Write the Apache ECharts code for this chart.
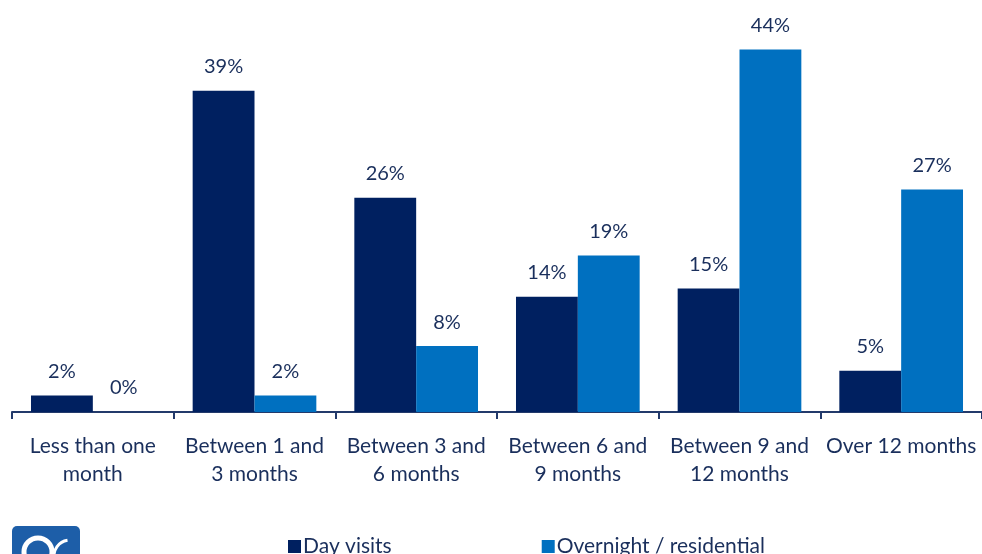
<!DOCTYPE html>
<html>
<head>
<meta charset="utf-8">
<script src="https://cdn.jsdelivr.net/npm/echarts@6/dist/echarts.min.js"></script>
<style>
  html, body { margin: 0; padding: 0; background: #ffffff; }
  #chart { width: 982px; height: 554px; }
</style>
</head>
<body>
<div id="chart"></div>
<script>
// Time since last visit, share of respondents by visit type
const categories = [
  'Less than one\nmonth',
  'Between 1 and\n3 months',
  'Between 3 and\n6 months',
  'Between 6 and\n9 months',
  'Between 9 and\n12 months',
  'Over 12 months'
];
const dayVisits = [2, 39, 26, 14, 15, 5];
const overnightResidential = [0, 2, 8, 19, 44, 27];

const NAVY = '#002060';
const BLUE = '#0070c0';
const TEXT = '#1a2f5c';
const FONT = 'Lato, "Open Sans", sans-serif';

const chart = echarts.init(document.getElementById('chart'));

const labelStyle = {
  show: true,
  position: 'top',
  distance: 14,
  formatter: '{c}%',
  color: TEXT,
  fontFamily: FONT,
  fontSize: 20
};

chart.setOption({
  animation: false,
  grid: { left: 12, right: -2, top: 0, height: 412, containLabel: false },
  legend: {
    left: 283,
    top: 531,
    itemWidth: 13,
    itemHeight: 13,
    itemGap: 150,
    icon: 'rect',
    textStyle: { color: TEXT, fontFamily: FONT, fontSize: 21, padding: [0, 0, 0, -3] },
    data: ['Day visits', 'Overnight / residential']
  },
  xAxis: {
    type: 'category',
    data: categories,
    axisLine: { lineStyle: { color: '#233a6b', width: 2 } },
    axisTick: { show: true, length: 7, lineStyle: { color: '#233a6b', width: 2 } },
    axisLabel: {
      color: TEXT,
      fontFamily: FONT,
      fontSize: 21,
      lineHeight: 28,
      margin: 20,
      interval: 0
    }
  },
  yAxis: {
    type: 'value',
    min: 0,
    max: 50,
    show: false,
    splitLine: { show: false }
  },
  series: [
    {
      name: 'Day visits',
      type: 'bar',
      data: dayVisits,
      barGap: '0%',
      barCategoryGap: '23.5%',
      itemStyle: { color: NAVY },
      label: labelStyle
    },
    {
      name: 'Overnight / residential',
      type: 'bar',
      data: overnightResidential,
      barGap: '0%',
      barCategoryGap: '23.5%',
      itemStyle: { color: BLUE },
      label: labelStyle
    }
  ],
  graphic: [
    {
      type: 'group',
      left: 12,
      top: 526,
      children: [
        { type: 'rect', shape: { x: 0, y: 0, width: 68, height: 40, r: 5 }, style: { fill: '#1d5ea8' } },
        { type: 'circle', shape: { cx: 26, cy: 26, r: 14 }, style: { fill: 'none', stroke: '#ffffff', lineWidth: 5 } },
        { type: 'arc', shape: { cx: 58, cy: 30, r: 16, startAngle: Math.PI * 0.95, endAngle: Math.PI * 1.45 }, style: { fill: 'none', stroke: '#ffffff', lineWidth: 3 } }
      ]
    }
  ]
});
</script>
</body>
</html>
